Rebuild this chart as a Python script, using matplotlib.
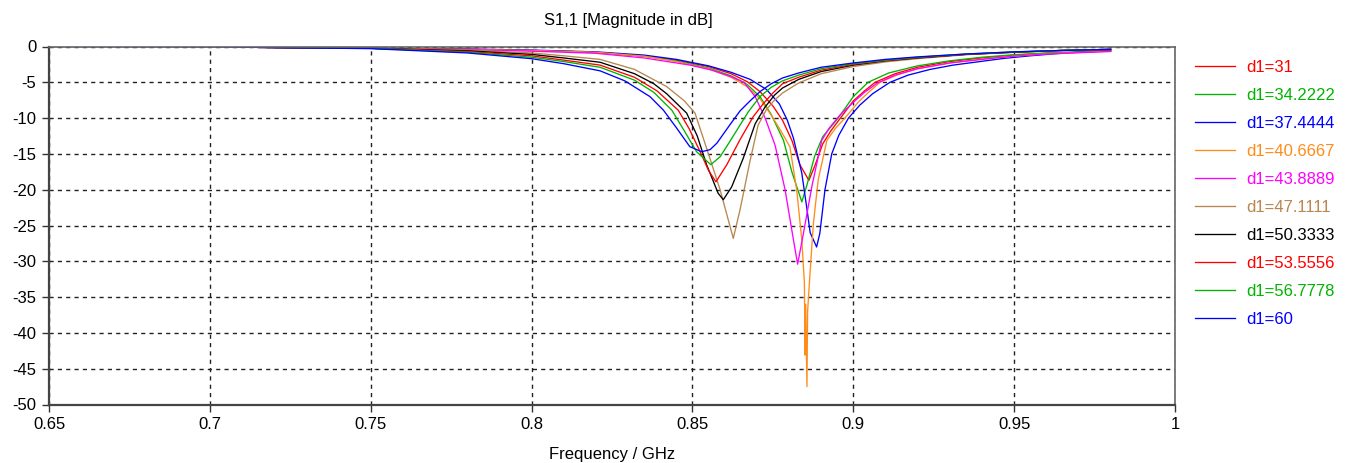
import matplotlib
matplotlib.use("Agg")
import matplotlib.pyplot as plt

plt.rcParams['font.family'] = ['Liberation Sans', 'DejaVu Sans']
plt.rcParams['axes.unicode_minus'] = False

# valeurs (frequence en GHz, S11 en dB)
f_31 = [0.71, 0.75, 0.78, 0.80, 0.82, 0.835, 0.845, 0.855, 0.862, 0.867, 0.871, 0.875, 0.878,
        0.8809, 0.8834, 0.8862, 0.8881, 0.8905, 0.893, 0.896, 0.90, 0.9035, 0.9068, 0.913,
        0.92, 0.93, 0.94, 0.95, 0.96, 0.98]
s_31 = [-0.1, -0.25, -0.4, -0.55, -0.8, -1.35, -1.9, -2.8, -3.8, -4.9, -6.3, -8.3, -10.3,
        -13.1, -16.5, -18.7, -16.6, -13.6, -11.8, -10.0, -7.6, -6.2, -5.0, -3.8,
        -2.9, -2.1, -1.6, -1.2, -0.95, -0.6]

f_34 = [0.71, 0.75, 0.78, 0.80, 0.82, 0.835, 0.845, 0.855, 0.862, 0.867, 0.871, 0.8745, 0.8783,
        0.8809, 0.884, 0.8855, 0.888, 0.8905, 0.8953, 0.90, 0.9046, 0.911, 0.92, 0.93, 0.94,
        0.95, 0.96, 0.98]
s_34 = [-0.1, -0.25, -0.4, -0.55, -0.8, -1.35, -2.0, -3.0, -4.1, -5.3, -7.0, -9.5, -13.1,
        -17.5, -21.7, -19.5, -15.3, -12.6, -10.0, -7.0, -5.0, -3.7, -2.7, -2.0, -1.5,
        -1.15, -0.9, -0.6]

f_37 = [0.71, 0.75, 0.78, 0.80, 0.82, 0.835, 0.845, 0.855, 0.862, 0.868, 0.873, 0.877, 0.8795,
        0.8814, 0.884, 0.8855, 0.8866, 0.8886, 0.8896, 0.8912, 0.8933, 0.8955, 0.8985, 0.902,
        0.906, 0.9114, 0.917, 0.9239, 0.931, 0.9394, 0.947, 0.955, 0.963, 0.97, 0.98]
s_37 = [-0.1, -0.25, -0.35, -0.5, -0.75, -1.2, -1.8, -2.7, -3.6, -4.6, -6.0, -8.0, -10.3,
        -12.8, -17.7, -22.4, -26.0, -28.0, -26.1, -20.0, -15.0, -12.4, -10.0, -8.2,
        -6.6, -5.0, -4.0, -3.2, -2.6, -2.1, -1.65, -1.3, -1.0, -0.8, -0.6]

f_40 = [0.71, 0.75, 0.78, 0.80, 0.82, 0.835, 0.845, 0.855, 0.862, 0.867, 0.871, 0.8745, 0.8775,
        0.8803, 0.8824, 0.884, 0.8848, 0.8850, 0.8852, 0.8856, 0.8858, 0.8865, 0.8876, 0.8891,
        0.8918, 0.8945, 0.8974, 0.9015, 0.9045, 0.9083, 0.914, 0.92, 0.93, 0.94, 0.95, 0.96, 0.98]
s_40 = [-0.1, -0.25, -0.4, -0.55, -0.8, -1.35, -2.1, -3.1, -4.3, -5.6, -7.3, -9.6, -11.8,
        -14.0, -20.0, -27.0, -33.0, -43.1, -36.0, -47.5, -37.0, -32.0, -24.7, -18.6,
        -13.1, -11.4, -10.0, -7.8, -6.5, -5.0, -3.9, -3.1, -2.3, -1.75, -1.35, -1.0, -0.65]

f_43 = [0.71, 0.75, 0.78, 0.80, 0.82, 0.835, 0.8493, 0.856, 0.862, 0.866, 0.8695, 0.8726, 0.8757,
        0.8788, 0.8814, 0.8827, 0.8845, 0.8871, 0.8902, 0.8925, 0.8958, 0.90, 0.9035, 0.9075,
        0.913, 0.92, 0.93, 0.94, 0.95, 0.96, 0.98]
s_43 = [-0.1, -0.25, -0.45, -0.65, -0.95, -1.6, -2.6, -3.3, -4.2, -5.0, -7.0, -10.0, -13.8,
        -20.0, -27.0, -30.4, -26.1, -19.6, -13.1, -11.4, -9.6, -7.8, -6.4, -5.1,
        -4.0, -3.1, -2.3, -1.8, -1.35, -1.05, -0.7]

f_47 = [0.71, 0.75, 0.78, 0.80, 0.81, 0.8213, 0.832, 0.842, 0.8475, 0.8508, 0.8544, 0.8586,
        0.8627, 0.8648, 0.8679, 0.8704, 0.873, 0.8755, 0.878, 0.883, 0.89, 0.90, 0.91, 0.92,
        0.935, 0.95, 0.965, 0.98]
s_47 = [-0.1, -0.25, -0.5, -0.9, -1.3, -1.8, -3.2, -5.6, -7.6, -9.3, -14.2, -20.0,
        -26.8, -22.8, -16.0, -11.0, -8.8, -7.5, -6.5, -5.1, -3.8, -2.8, -2.15, -1.7,
        -1.15, -0.8, -0.55, -0.4]

f_50 = [0.71, 0.75, 0.78, 0.80, 0.81, 0.8213, 0.832, 0.838, 0.842, 0.8482, 0.8515, 0.8544, 0.858,
        0.8596, 0.8622, 0.8658, 0.8695, 0.8725, 0.8755, 0.878, 0.883, 0.89, 0.90, 0.91, 0.92,
        0.935, 0.95, 0.965, 0.98]
s_50 = [-0.1, -0.25, -0.6, -1.1, -1.6, -2.2, -3.8, -5.2, -6.6, -9.3, -12.5, -16.5, -20.5,
        -21.4, -19.6, -15.6, -10.8, -8.5, -6.8, -5.8, -4.6, -3.5, -2.6, -2.0, -1.6,
        -1.1, -0.8, -0.55, -0.4]

f_53 = [0.71, 0.75, 0.78, 0.80, 0.81, 0.8213, 0.832, 0.839, 0.8456, 0.849, 0.8524, 0.855, 0.8573,
        0.8607, 0.8648, 0.8689, 0.872, 0.875, 0.878, 0.883, 0.89, 0.90, 0.91, 0.92, 0.935,
        0.95, 0.965, 0.98]
s_53 = [-0.1, -0.25, -0.7, -1.3, -1.9, -2.6, -4.3, -6.2, -8.9, -11.5, -14.7, -17.3, -18.9,
        -16.5, -13.0, -9.8, -8.0, -6.5, -5.2, -4.3, -3.3, -2.5, -1.95, -1.55, -1.1,
        -0.8, -0.55, -0.4]

f_56 = [0.71, 0.75, 0.78, 0.80, 0.81, 0.8213, 0.832, 0.838, 0.8436, 0.8475, 0.8513, 0.8557,
        0.8586, 0.8613, 0.8638, 0.8674, 0.871, 0.8745, 0.878, 0.883, 0.89, 0.90, 0.91, 0.92,
        0.935, 0.95, 0.965, 0.98]
s_56 = [-0.1, -0.25, -0.8, -1.5, -2.1, -2.9, -4.7, -6.4, -8.9, -11.8, -14.7, -16.5,
        -15.4, -13.5, -11.7, -9.1, -7.0, -5.7, -4.8, -4.0, -3.1, -2.4, -1.9, -1.5,
        -1.05, -0.75, -0.55, -0.4]

f_60 = [0.65, 0.70, 0.75, 0.78, 0.80, 0.81, 0.8213, 0.829, 0.8368, 0.841, 0.8451, 0.8492, 0.8529,
        0.8555, 0.8576, 0.8617, 0.8648, 0.8679, 0.871, 0.8745, 0.878, 0.883, 0.89, 0.90, 0.91,
        0.92, 0.935, 0.95, 0.965, 0.98]
s_60 = [0.0, -0.05, -0.3, -0.9, -1.7, -2.4, -3.4, -4.8, -7.0, -8.9, -11.4, -14.0, -14.7,
        -14.4, -13.5, -10.9, -9.0, -7.6, -6.3, -5.2, -4.4, -3.7, -2.9, -2.3, -1.8,
        -1.45, -1.05, -0.75, -0.55, -0.4]

labels = ['d1=31', 'd1=34.2222', 'd1=37.4444', 'd1=40.6667', 'd1=43.8889',
          'd1=47.1111', 'd1=50.3333', 'd1=53.5556', 'd1=56.7778', 'd1=60']
couleurs = ['#ff0000', '#00b400', '#0000ff', '#ff8c1a', '#ff00ff',
            '#b8864e', '#000000', '#ff0000', '#00b400', '#0000ff']
freqs = [f_31, f_34, f_37, f_40, f_43, f_47, f_50, f_53, f_56, f_60]
mags = [s_31, s_34, s_37, s_40, s_43, s_47, s_50, s_53, s_56, s_60]

xticks = [0.65, 0.7, 0.75, 0.8, 0.85, 0.9, 0.95, 1]
xticklabels = ['0.65', '0.7', '0.75', '0.8', '0.85', '0.9', '0.95', '1']
yticks = list(range(0, -55, -5))

fig = plt.figure(figsize=(13.59, 4.63), dpi=100)
ax = fig.add_axes([49 / 1359, 1 - 404.5 / 463, 1126 / 1359, 358 / 463])

for f, s, lab, c in zip(freqs, mags, labels, couleurs):
    ax.plot(f, s, color=c, lw=0.95, label=lab)

ax.set_xlim(0.65, 1.0)
ax.set_ylim(-50, 0)
ax.set_xticks(xticks)
ax.set_xticklabels(xticklabels)
ax.set_yticks(yticks)
ax.grid(True, color='#222222', linestyle=(0, (3, 3)), linewidth=1.0)
ax.tick_params(labelsize=12, length=5, width=1, color='#333333', pad=4)

for side in ['left', 'bottom']:
    ax.spines[side].set_color('#444444')
    ax.spines[side].set_linewidth(1.6)
for side in ['top', 'right']:
    ax.spines[side].set_color('#666666')
    ax.spines[side].set_linewidth(1.2)

# titre et axe x comme dans CST
fig.text(628 / 1359, 1 - 20 / 463, 'S1,1 [Magnitude in dB]', ha='center', va='center', fontsize=12)
fig.text(612 / 1359, 1 - 455 / 463, 'Frequency / GHz', ha='center', va='center', fontsize=12)

leg = ax.legend(loc='upper left', bbox_to_anchor=(1.0115, 0.98), frameon=False, fontsize=12,
                handlelength=2.45, handletextpad=0.66, labelspacing=0.78, borderaxespad=0)
for txt, c in zip(leg.get_texts(), couleurs):
    txt.set_color(c)

fig.savefig('out.png', dpi=100)
